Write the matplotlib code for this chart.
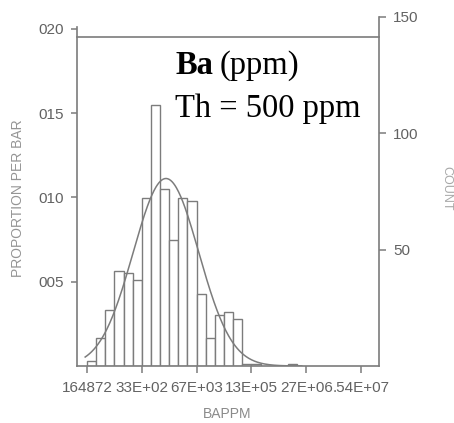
import matplotlib
matplotlib.use("Agg")
import matplotlib.pyplot as plt
import numpy as np

# histogram of log(BAPPM), one entry per bar (6 bars per tick interval)
counts = [2, 12, 24, 41, 40, 37, 72, 112, 76, 54, 72, 71, 31, 12, 22, 23, 20, 1, 1, 0, 0, 0, 1]
tick_pos = [0, 6, 12, 18, 24, 30]
tick_labels = ["164872", "33E+02", "67E+03", "13E+05", "27E+06", ".54E+07"]
prop_ticks = [0.05, 0.10, 0.15, 0.20]
prop_labels = ["005", "010", "015", "020"]
count_ticks = [50, 100, 150]

GRAY = "#7c7c7c"
TXT = "#626262"


def main():
	plt.rcParams['font.family'] = ['Liberation Sans', 'DejaVu Sans']

	counts_a = np.array(counts, dtype=float)
	n = counts_a.sum()
	left = np.arange(len(counts_a))
	prop = counts_a / n

	# normal curve fitted to the bars
	centers = left + 0.5
	mean = (counts_a * centers).sum() / n
	sd = np.sqrt((counts_a * (centers - mean) ** 2).sum() / n)
	xs = np.linspace(-0.2, 23.5, 300)
	ys = np.exp(-0.5 * ((xs - mean) / sd) ** 2) / (sd * np.sqrt(2 * np.pi))

	W, H = 454, 423
	fig = plt.figure(figsize=(W / 100, H / 100), dpi=100)
	x0, x1, y0, y1 = 76.5, 379.3, 366, 17
	ax = fig.add_axes([x0 / W, 1 - y0 / H, (x1 - x0) / W, (y0 - y1) / H])

	keep = counts_a > 0
	ax.bar(left[keep], prop[keep], width=1, align='edge', facecolor='white',
		edgecolor=GRAY, linewidth=1.0, zorder=2)
	ax.plot(xs, ys, color=GRAY, linewidth=1.1, zorder=3)

	ax.set_xlim(-1.15, 32.0)
	ymax = 0.207
	ax.set_ylim(0, ymax)

	ax.set_xticks(tick_pos)
	ax.set_xticklabels(tick_labels)
	ax.set_yticks(prop_ticks)
	ax.set_yticklabels(prop_labels)
	ax.tick_params(axis='x', direction='out', length=5, width=1.1, color=GRAY,
		labelcolor=TXT, labelsize=11, pad=6)
	ax.tick_params(axis='y', direction='out', length=4, width=1.1, color=GRAY,
		labelcolor=TXT, labelsize=11, pad=5)

	for s in ['top', 'right']:
		ax.spines[s].set_visible(False)
	ax.spines['left'].set_bounds(0, 0.2013)
	for s in ['left', 'bottom']:
		ax.spines[s].set_color(GRAY)
		ax.spines[s].set_linewidth(1.2)

	# upper frame line
	ax.plot([0, 1], [0.9427, 0.9427], transform=ax.transAxes, color=GRAY,
		linewidth=1.2, clip_on=False)

	ax2 = ax.twinx()
	ax2.set_ylim(0, ymax * n)
	ax2.set_yticks(count_ticks)
	for s in ['top', 'left', 'bottom']:
		ax2.spines[s].set_visible(False)
	ax2.spines['right'].set_color(GRAY)
	ax2.spines['right'].set_linewidth(1.2)
	ax2.tick_params(axis='y', direction='out', length=5, width=1.1, color=GRAY,
		labelcolor=TXT, labelsize=11, pad=5)

	fig.text(18 / W, 1 - 198 / H, "PROPORTION PER BAR", rotation=90, ha='center',
		va='center', fontsize=10, color="#959595")
	fig.text(227 / W, 1 - 413.5 / H, "BAPPM", ha='center', va='center',
		fontsize=10, color="#8a8a8a")
	fig.text(446 / W, 1 - 188 / H, "COUNT", rotation=270, ha='center',
		va='center', fontsize=9, color="#a8a8a8")

	fig.text(175 / W, 1 - 74 / H, "Ba", family='Liberation Serif', weight='bold',
		fontsize=23.5, color='black', va='baseline')
	fig.text(220 / W, 1 - 74 / H, "(ppm)", family='Liberation Serif',
		fontsize=23.5, color='black', va='baseline')
	fig.text(175 / W, 1 - 117 / H, "Th = 500 ppm", family='Liberation Serif',
		fontsize=23.5, color='black', va='baseline')

	fig.savefig("out.png", dpi=100)


if __name__ == '__main__':
	main()
